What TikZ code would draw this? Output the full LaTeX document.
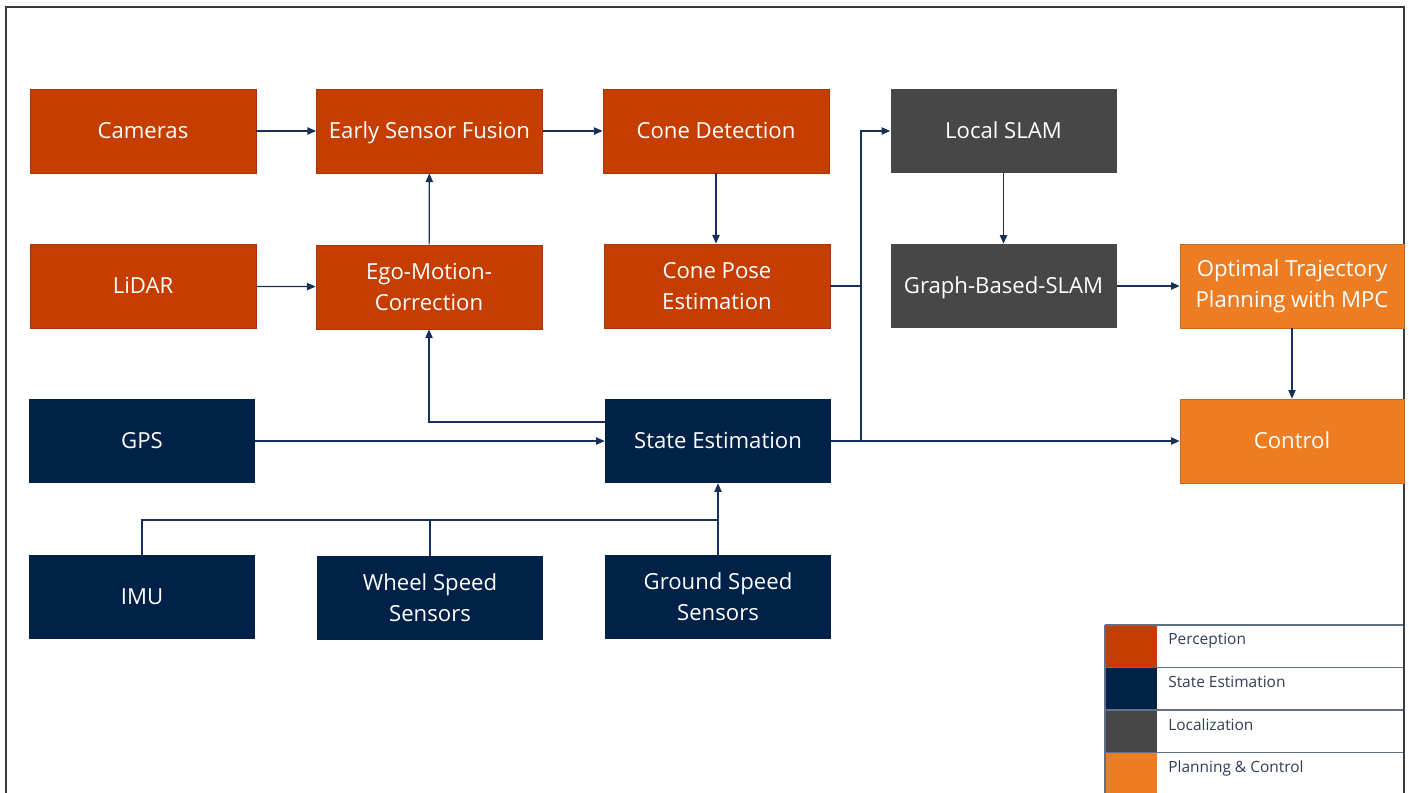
\documentclass[tikz,border=0pt]{standalone}
\usepackage{fontspec}
\setmainfont{Open Sans}
\usetikzlibrary{arrows.meta,calc}

\definecolor{percep}{RGB}{197,62,0}
\definecolor{percepedge}{RGB}{170,52,10}
\definecolor{stateest}{RGB}{1,34,72}
\definecolor{localiz}{RGB}{71,71,71}
\definecolor{planctl}{RGB}{237,125,34}
\definecolor{wire}{RGB}{22,48,88}
\definecolor{frame}{RGB}{58,58,58}
\definecolor{legline}{RGB}{96,112,136}
\definecolor{legtext}{RGB}{47,62,85}

\tikzset{
  blk/.style={rectangle, minimum width=169.5pt, minimum height=63pt, inner sep=0pt,
    text=white, align=center, font=\fontsize{16.6}{23.5}\selectfont},
  one/.style={text height=11.9pt, text depth=0pt},
  perc/.style={blk, fill=percep, draw=percepedge, line width=0.6pt},
  sest/.style={blk, fill=stateest},
  loc/.style={blk, fill=localiz},
  pc/.style={blk, fill=planctl, draw=planctl!85!black, line width=0.5pt},
  wireline/.style={draw=wire, line width=0.9pt},
  arr/.style={wireline, -{Triangle[length=6.5pt,width=5.5pt]}},
  swatch/.style={rectangle, inner sep=0pt, minimum width=38pt, minimum height=31.9pt},
  legtxt/.style={anchor=north west, inner sep=0pt, text=legtext,
    font=\fontsize{11.6}{13}\selectfont}
}

\begin{document}
\begin{tikzpicture}[x=0.75pt, y=-0.75pt]
\useasboundingbox (0,0) rectangle (1409,792);
\clip (0,0) rectangle (1409,792);

% outer frame
\draw[frame, line width=1.5pt] (6,800) -- (6,7) -- (1404,7) -- (1404,800);

% perception blocks
\node[perc, one] (cam)   at (143,131)   {Cameras};
\node[perc, one] (esf)   at (429.5,131) {Early Sensor Fusion};
\node[perc, one] (cdet)  at (716,131)   {Cone Detection};
\node[perc, one] (lidar) at (143,286)   {LiDAR};
\node[perc] (ego)   at (429,287)   {Ego-Motion-\\Correction};
\node[perc] (cpose) at (717,286)   {Cone Pose\\Estimation};

% localization blocks
\node[loc, one] (lslam) at (1003.5,131) {Local SLAM};
\node[loc, one] (gslam) at (1003.5,286) {Graph-Based-SLAM};

% planning & control blocks
\node[pc, minimum width=168pt] (opt)  at (1292,286) {Optimal Trajectory\\Planning with MPC};
\node[pc, one, minimum width=168pt] (ctrl) at (1292,441) {Control};

% state estimation blocks
\node[sest, one] (gps)    at (142,441)   {GPS};
\node[sest, one] (se)     at (718,441)   {State Estimation};
\node[sest, one] (imu)    at (142,597)   {IMU};
\node[sest] (wheel)  at (430,598)   {Wheel Speed\\Sensors};
\node[sest] (ground) at (718,597)   {Ground Speed\\Sensors};

% junction points
\coordinate (j)   at (861,441);
\coordinate (bus) at (718,520);

% connectors
\draw[arr] (cam) -- (esf);
\draw[arr] (esf) -- (cdet);
\draw[arr] (cdet.south) -- (cdet.south |- cpose.north);
\draw[arr] (lidar) -- (ego);
\draw[arr] (ego) -- (esf);
\draw[arr] ([yshift=14.25pt]se.west) -| (ego.south);
\draw[arr] (gps) -- (se);
\draw[wireline] (cpose.east) -- (cpose.east -| j);
\draw[arr] (j) |- (lslam.west);
\draw[arr] (se) -- (ctrl);
\draw[arr] (lslam) -- (gslam);
\draw[arr] (gslam) -- (opt);
\draw[arr] (opt) -- (ctrl);
\draw[wireline] (imu.north) |- (bus);
\draw[wireline] (wheel.north) -- (wheel.north |- bus);
\draw[arr] (ground.north) -- (se.south);

% legend
\foreach \yy/\col/\lab [count=\i] in {625/percep/Perception, 667.5/stateest/State Estimation, 710/localiz/Localization, 752.5/planctl/Planning \& Control}{
  \node[swatch, fill=\col, anchor=north west] (sw\i) at (1106,\yy) {};
  \node[legtxt] (lt\i) at (1168,\yy+8) {\lab};
  \draw[legline, line width=0.9pt] (1105,\yy) -- (1403,\yy);
}
\draw[legline, line width=0.9pt] (1105,625) -- (1105,800);
\end{tikzpicture}
\end{document}
